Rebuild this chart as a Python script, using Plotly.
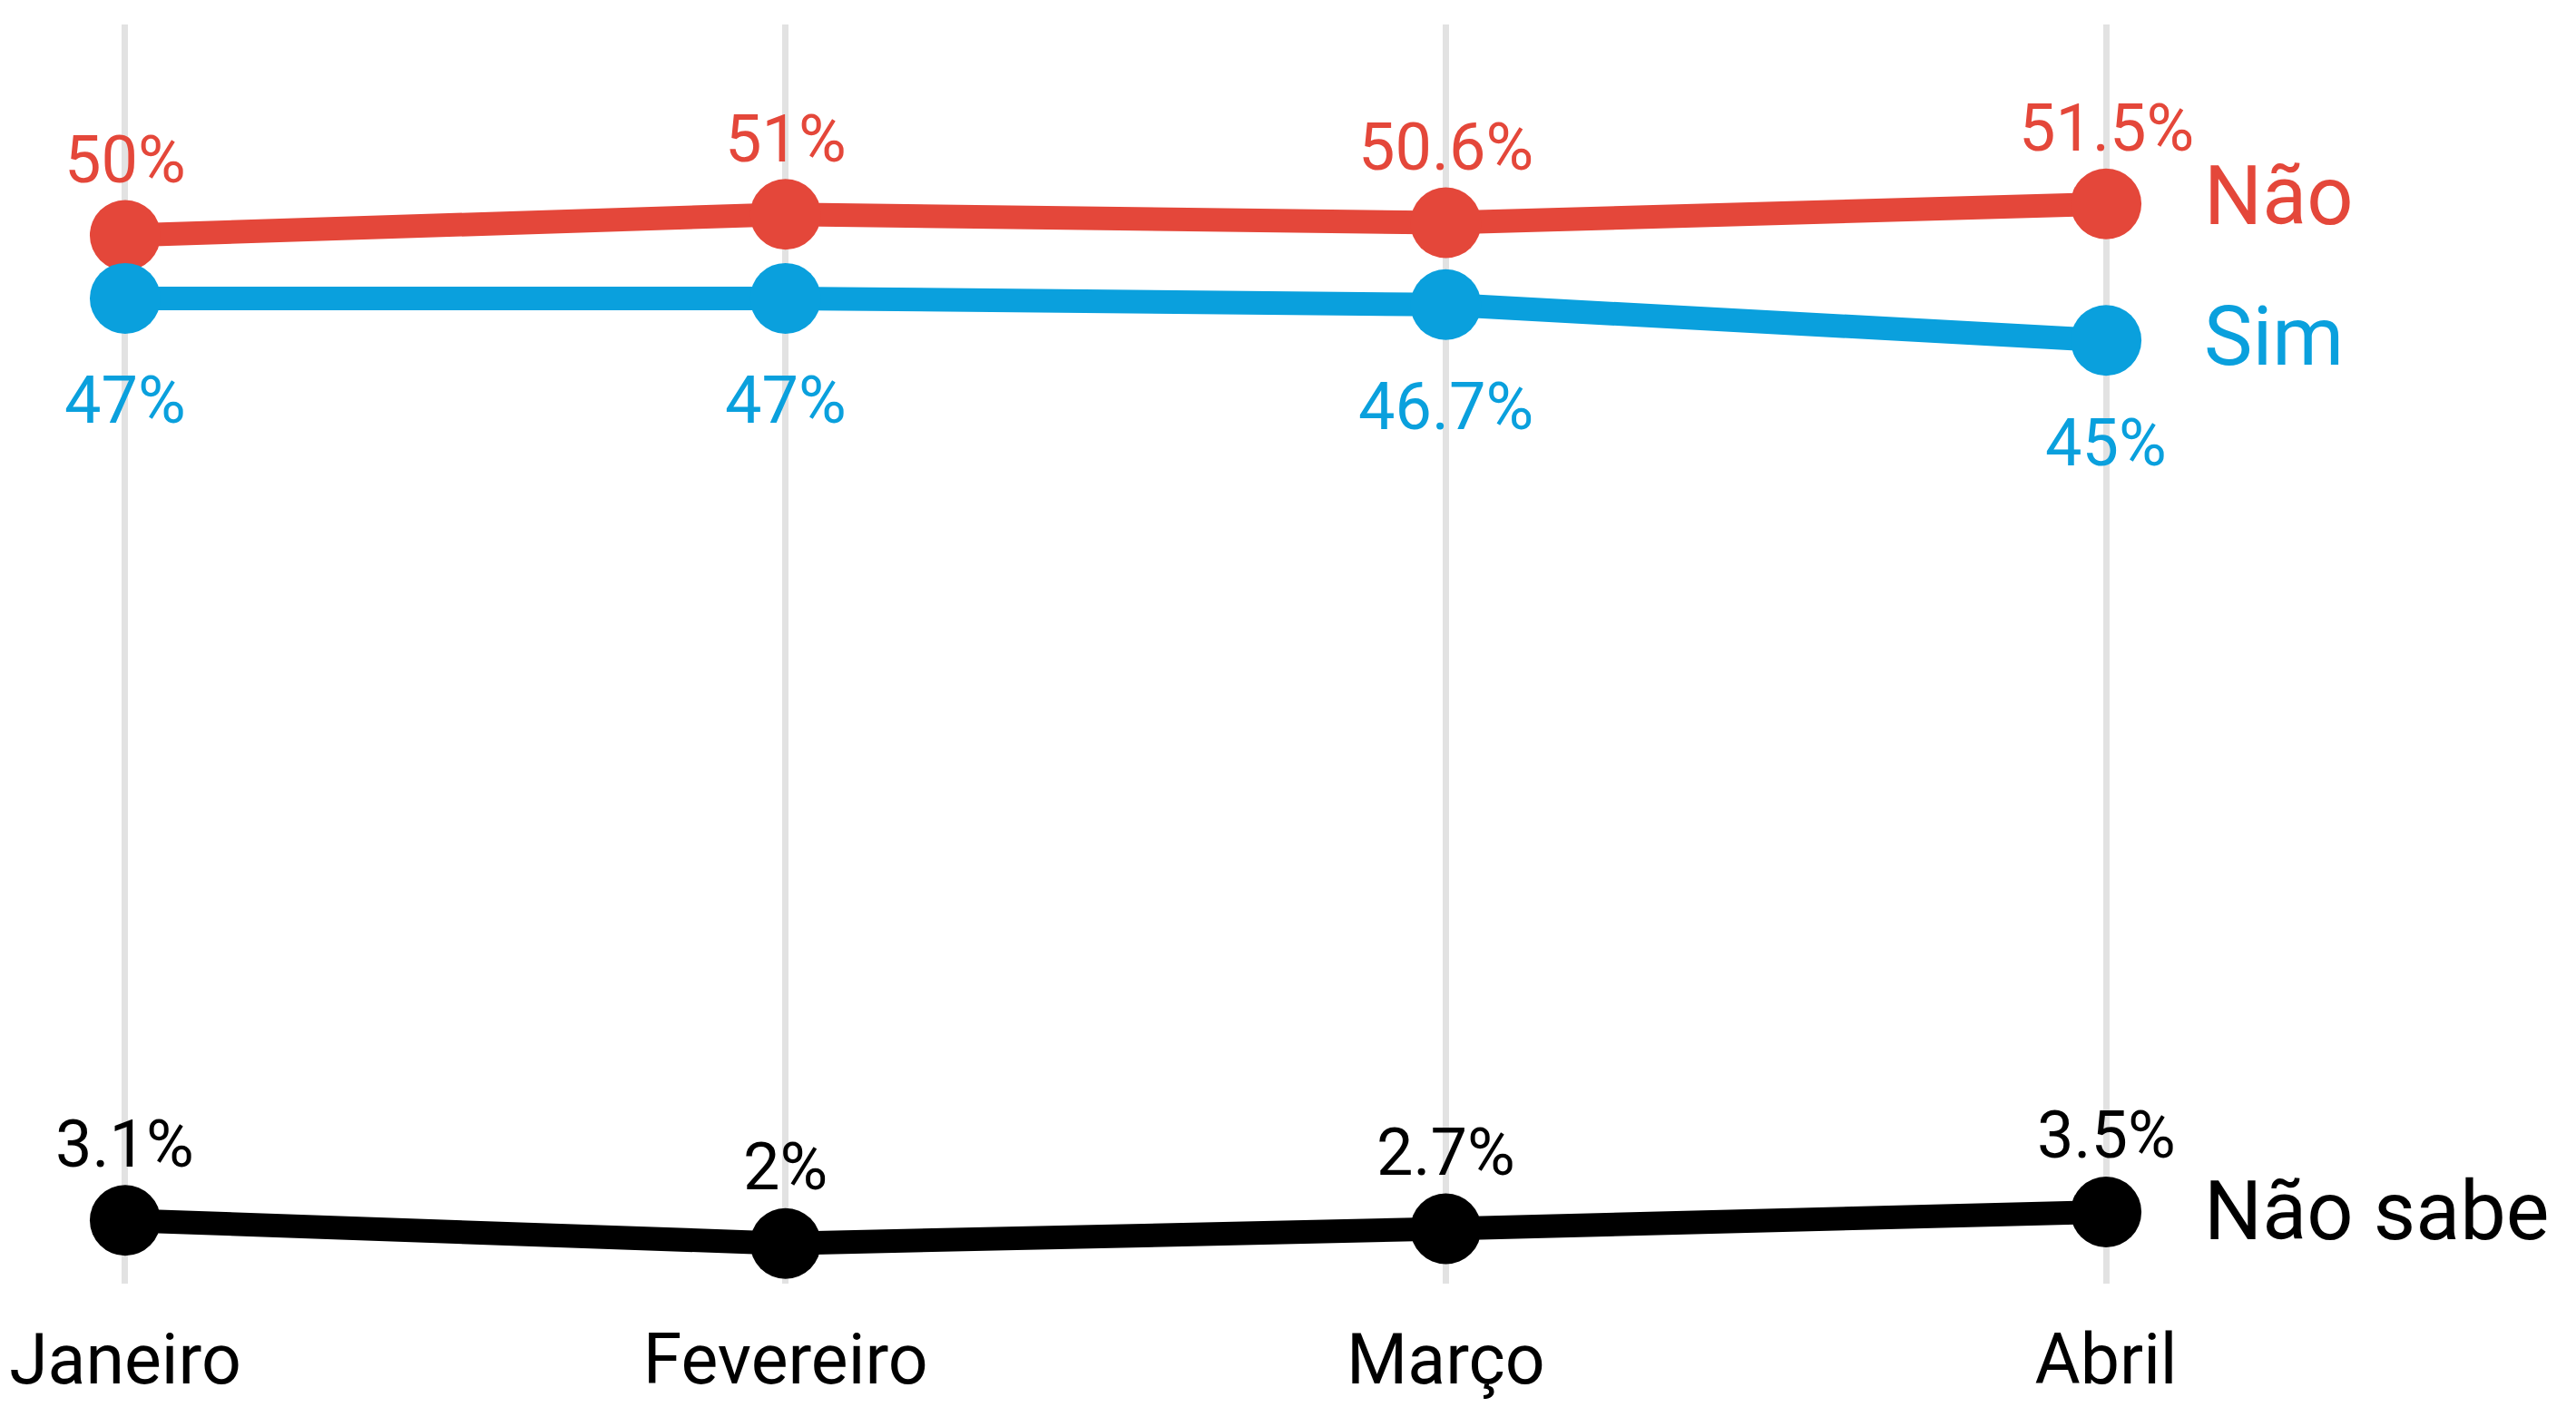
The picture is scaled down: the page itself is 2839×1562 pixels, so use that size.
import plotly.graph_objects as go

months = ["Janeiro", "Fevereiro", "Março", "Abril"]
nao = [50, 51, 50.6, 51.5]
sim = [47, 47, 46.7, 45]
nao_sabe = [3.1, 2, 2.7, 3.5]
nao_labels = ["50%", "51%", "50.6%", "51.5%"]
sim_labels = ["47%", "47%", "46.7%", "45%"]
ns_labels = ["3.1%", "2%", "2.7%", "3.5%"]
series_names = ["Não", "Sim", "Não sabe"]

RED = "#e4473a"
BLUE = "#0aa0dd"
BLACK = "#000000"
FONT = "Roboto, Liberation Sans, sans-serif"

xs = list(range(len(months)))
fig = go.Figure()

series = [
    (nao, nao_labels, RED, 83, series_names[0], 8),
    (sim, sim_labels, BLUE, -113, series_names[1], 4),
    (nao_sabe, ns_labels, BLACK, 84, series_names[2], 0),
]

for vals, labels, color, shift, name, nshift in series:
    fig.add_trace(go.Scatter(
        x=xs, y=vals, mode="lines+markers",
        line=dict(color=color, width=26),
        marker=dict(color=color, size=78),
        cliponaxis=False, showlegend=False, hoverinfo="skip",
    ))
    for xv, yv, lab in zip(xs, vals, labels):
        fig.add_annotation(x=xv, y=yv, text=lab, showarrow=False,
                           yshift=shift, xanchor="center", yanchor="middle",
                           font=dict(family=FONT, size=72, color=color))
    fig.add_annotation(x=xs[-1], y=vals[-1], text=name, showarrow=False,
                       xanchor="left", yanchor="middle", xshift=106, yshift=nshift,
                       font=dict(family=FONT, size=90, color=color))

fig.update_layout(
    width=2823, height=1546,
    margin=dict(l=0, r=0, t=19, b=139),
    paper_bgcolor="white", plot_bgcolor="white",
    xaxis=dict(range=[-0.1786, 3.7007], tickvals=xs, ticktext=months,
               showgrid=True, gridcolor="#e2e2e2", gridwidth=7,
               zeroline=False, showline=False, ticks="", automargin=False,
               tickfont=dict(family=FONT, size=77, color=BLACK),
               ticklabeloverflow="allow", ticklabelstandoff=32),
    yaxis=dict(range=[0.086, 60.04], showgrid=False, zeroline=False,
               showticklabels=False, showline=False, ticks="", automargin=False),
)

fig.write_html("out.html")
